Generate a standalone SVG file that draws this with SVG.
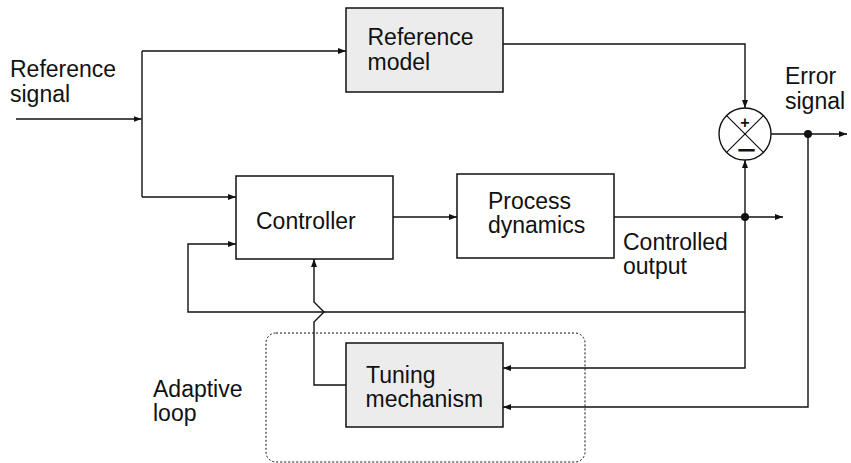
<svg xmlns="http://www.w3.org/2000/svg" width="851" height="463" viewBox="0 0 851 463">
<defs>
<style>
.t{font-family:"Liberation Sans",Arial,sans-serif;font-size:23px;fill:#111}
.box{stroke:#111;stroke-width:1.5}
.w{fill:#fff}
.g{fill:#ececec}
.c{fill:none;stroke:#111;stroke-width:1.4}
.a{marker-end:url(#arr)}
</style>
<marker id="arr" markerUnits="userSpaceOnUse" markerWidth="10" markerHeight="8" refX="8" refY="3" orient="auto">
<path d="M0,0 L8,3 L0,6 Z" fill="#111"/>
</marker>
</defs>
<rect width="851" height="463" fill="#fff"/>

<g id="connectors">
<path class="c a" d="M16 119 H141.5"/>
<path class="c" d="M142 51 V197"/>
<path class="c a" d="M142 51 H346"/>
<path class="c a" d="M142 197 H236"/>
<path class="c a" d="M503 44 H745 V108"/>
<path class="c a" d="M393 217 H457"/>
<path class="c a" d="M614 217 H783"/>
<path class="c a" d="M745 217 V160"/>
<path class="c a" d="M745 217 V368 H503"/>
<path class="c a" d="M745 312 H188 V244 H236"/>
<path class="c a" d="M771 134 H847"/>
<path class="c a" d="M808 134 V407 H503"/>
<path class="c a" d="M346 385 H314 V322 L324 312 L314 302 V259"/>
<circle cx="745" cy="217" r="4" fill="#111"/>
<circle cx="808" cy="134" r="4" fill="#111"/>
</g>

<g id="adaptive-loop">
<rect x="266" y="333" width="319" height="129" rx="10" fill="none" stroke="#111" stroke-width="1" stroke-dasharray="2,2"/>
<text class="t" x="153" y="396.5">Adaptive</text>
<text class="t" x="153" y="421">loop</text>
</g>

<g id="reference-signal">
<text class="t" x="10" y="77">Reference</text>
<text class="t" x="10" y="101.5">signal</text>
</g>

<g id="reference-model">
<rect class="box g" x="346" y="8" width="157" height="84"/>
<text class="t" x="367.5" y="45">Reference</text>
<text class="t" x="367.5" y="70">model</text>
</g>

<g id="controller">
<rect class="box w" x="236" y="176" width="157" height="83"/>
<text class="t" x="256" y="229">Controller</text>
</g>

<g id="process-dynamics">
<rect class="box w" x="457" y="174" width="157" height="84"/>
<text class="t" x="488" y="208.5">Process</text>
<text class="t" x="488" y="233">dynamics</text>
</g>

<g id="controlled-output">
<text class="t" x="623" y="249.5">Controlled</text>
<text class="t" x="623" y="274">output</text>
</g>

<g id="tuning-mechanism">
<rect class="box g" x="346" y="343" width="157" height="84"/>
<text class="t" x="366" y="382.5">Tuning</text>
<text class="t" x="365.5" y="407">mechanism</text>
</g>

<g id="summing-junction">
<circle cx="745" cy="134" r="26" fill="#fff" stroke="#111" stroke-width="1.4"/>
<path d="M726.6 115.6 L763.4 152.4 M763.4 115.6 L726.6 152.4" stroke="#111" stroke-width="1.2" fill="none"/>
<text x="745" y="127.5" text-anchor="middle" font-family="Liberation Sans, Arial, sans-serif" font-weight="bold" font-size="16" fill="#111">+</text>
<text x="737" y="158" font-family="Liberation Sans, Arial, sans-serif" font-weight="bold" font-size="24" fill="#111" textLength="19" lengthAdjust="spacingAndGlyphs">−</text>
</g>

<g id="error-signal">
<text class="t" x="785" y="84">Error</text>
<text class="t" x="785" y="108.5">signal</text>
</g>
</svg>
